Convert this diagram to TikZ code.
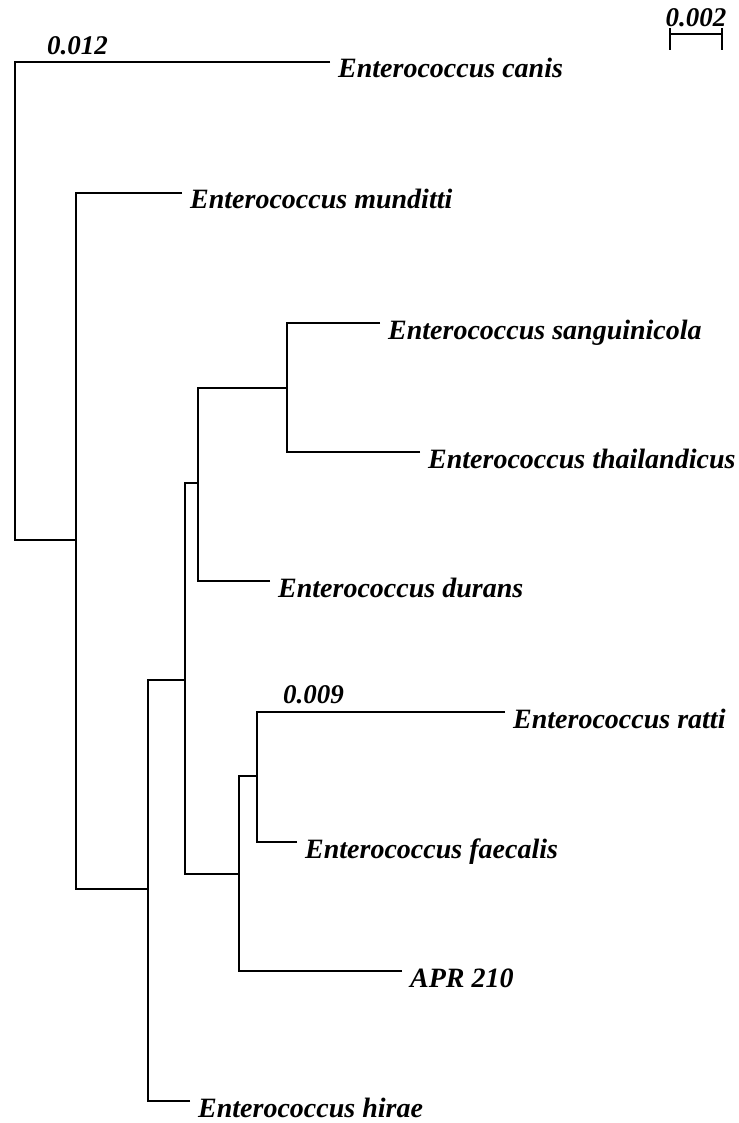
\documentclass[tikz,border=0pt]{standalone}
\usepackage{fontspec}
\setmainfont{Liberation Serif}
\usepackage{tikz}

\tikzset{
    taxon/.style={anchor=base west, inner sep=0pt, xshift=8pt, yshift=-16pt,
        font=\fontsize{28}{32}\selectfont\bfseries\itshape},
    brlen/.style={inner sep=0pt, font=\fontsize{27}{30}\selectfont\bfseries\itshape},
    branch/.style={line width=1.9pt}
}

\begin{document}
\begin{tikzpicture}[x=1pt,y=-1pt]
    \useasboundingbox (0,0) rectangle (738,1123);

    % inner nodes
    \coordinate (root) at (15,300);
    \coordinate (n1) at (76,540);
    \coordinate (n2) at (148,889);
    \coordinate (n3) at (185,680);
    \coordinate (n4) at (198,483);
    \coordinate (n5) at (239,874);
    \coordinate (n6) at (287,388);
    \coordinate (n7) at (257,776);

    % tips
    \coordinate (canis) at (330,62);
    \coordinate (munditti) at (182,193);
    \coordinate (sanguin) at (380,323);
    \coordinate (thailand) at (420,452);
    \coordinate (durans) at (270,581);
    \coordinate (ratti) at (505,712);
    \coordinate (faecalis) at (297,842);
    \coordinate (apr) at (402,971);
    \coordinate (hirae) at (190,1101);

    \node[taxon] (canis-t) at (canis) {Enterococcus canis};
    \node[taxon] (munditti-t) at (munditti) {Enterococcus munditti};
    \node[taxon] (sanguin-t) at (sanguin) {Enterococcus sanguinicola};
    \node[taxon] (thailand-t) at (thailand) {Enterococcus thailandicus};
    \node[taxon] (durans-t) at (durans) {Enterococcus durans};
    \node[taxon] (ratti-t) at (ratti) {Enterococcus ratti};
    \node[taxon] (faecalis-t) at (faecalis) {Enterococcus faecalis};
    \node[taxon] (apr-t) at (apr) {APR 210};
    \node[taxon] (hirae-t) at (hirae) {Enterococcus hirae};

    \draw[branch] (canis) -| (root);
    \draw[branch] (n1) -| (root);
    \draw[branch] (munditti) -| (n1);
    \draw[branch] (n2) -| (n1);
    \draw[branch] (n3) -| (n2);
    \draw[branch] (hirae) -| (n2);
    \draw[branch] (n4) -| (n3);
    \draw[branch] (n5) -| (n3);
    \draw[branch] (n6) -| (n4);
    \draw[branch] (durans) -| (n4);
    \draw[branch] (sanguin) -| (n6);
    \draw[branch] (thailand) -| (n6);
    \draw[branch] (n7) -| (n5);
    \draw[branch] (apr) -| (n5);
    \draw[branch] (ratti) -| (n7);
    \draw[branch] (faecalis) -| (n7);

    \node[brlen, anchor=base west] (len-canis) at (47,55) {0.012};
    \node[brlen, anchor=base west] (len-ratti) at (283,703) {0.009};

    % scale bar
    \coordinate (sb-l) at (670,34);
    \coordinate (sb-r) at (722,34);
    \draw[branch] (sb-l) -- (sb-r);
    \draw[branch] (sb-l) ++(0,-6) -- ++(0,22);
    \draw[branch] (sb-r) ++(0,-6) -- ++(0,22);
    \node[brlen, anchor=base] (sb-t) at (696,27) {0.002};
\end{tikzpicture}
\end{document}
